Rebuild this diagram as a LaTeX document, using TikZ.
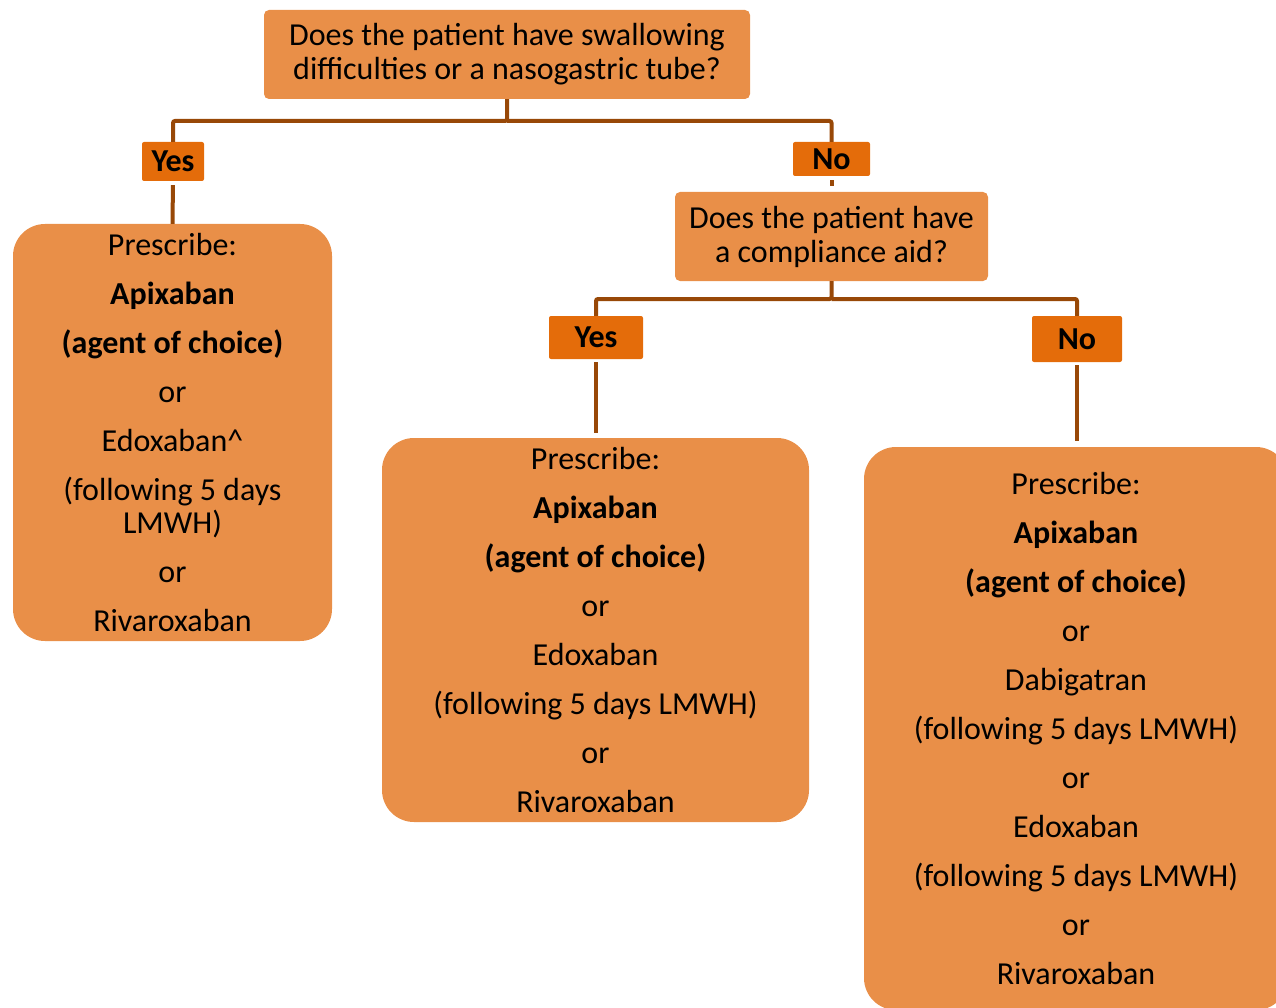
\documentclass[tikz,border=0pt]{standalone}
\usepackage{fontspec}
\setmainfont{Carlito}
\definecolor{boxfill}{HTML}{E98F48}
\definecolor{labfill}{HTML}{E46C0A}
\definecolor{linecol}{HTML}{984807}
\tikzset{
  qbox/.style={fill=boxfill, rounded corners=5pt, align=center, inner sep=0pt,
    font=\fontsize{32}{34}\selectfont},
  rbox/.style={fill=boxfill, rounded corners=32pt, align=center, inner sep=0pt,
    font=\fontsize{32}{49}\selectfont},
  lab/.style={fill=labfill, rounded corners=2pt, inner sep=0pt,
    font=\fontsize{32}{34}\selectfont\bfseries},
  conn/.style={draw=linecol, line width=4pt, rounded corners=2pt}
}
\begin{document}
\begin{tikzpicture}[x=1pt,y=-1pt]
\useasboundingbox (0,0) rectangle (1276,1008);
% question boxes
\node[qbox, minimum width=486pt, minimum height=89pt] (q1) at (507,54.5)
  {Does the patient have swallowing\\difficulties or a nasogastric tube?};
\node[qbox, minimum width=313pt, minimum height=89pt] (q2) at (831.5,236.5)
  {Does the patient have\\a compliance aid?};
% labels
\node[lab, minimum width=62pt, minimum height=39pt] (yes1) at (173,161.5) {Yes};
\node[lab, minimum width=77pt, minimum height=34pt] (no1) at (831.5,159) {No};
\node[lab, minimum width=94pt, minimum height=43pt] (yes2) at (596,337.5) {Yes};
\node[lab, minimum width=90pt, minimum height=46pt] (no2) at (1077,339) {No};
% result boxes
\node[rbox, minimum width=319pt, minimum height=417pt] (r1) at (172.5,432.5)
  {Prescribe:\\\textbf{Apixaban}\\\textbf{(agent of choice)}\\or\\Edoxaban\^{}\\(following 5 days\\[-16pt]LMWH)\\or\\Rivaroxaban};
\node[rbox, minimum width=427pt, minimum height=384pt] (r2) at (595.5,630)
  {Prescribe:\\\textbf{Apixaban}\\\textbf{(agent of choice)}\\or\\Edoxaban\\(following 5 days LMWH)\\or\\Rivaroxaban};
\node[rbox, minimum width=424pt, minimum height=563pt] (r3) at (1076,728.5)
  {Prescribe:\\\textbf{Apixaban}\\\textbf{(agent of choice)}\\or\\Dabigatran\\(following 5 days LMWH)\\or\\Edoxaban\\(following 5 days LMWH)\\or\\Rivaroxaban};
% connectors
\coordinate (h1) at (507,121);
\coordinate (h2) at (831.5,299);
\draw[conn] (q1.south) -- (h1) -| (yes1.north);
\draw[conn] (h1) -| (no1.north);
\draw[conn, shorten <=4pt] (yes1.south) -- (r1.north);
\draw[conn, shorten <=4pt, shorten >=6pt] (no1.south) -- (q2.north);
\draw[conn] (q2.south) -- (h2) -| (yes2.north);
\draw[conn] (h2) -| (no2.north);
\draw[conn, shorten <=3pt, shorten >=5pt] (yes2.south) -- (yes2.south |- r2.north);
\draw[conn, shorten <=3pt, shorten >=6pt] (no2.south) -- (no2.south |- r3.north);
\end{tikzpicture}
\end{document}
